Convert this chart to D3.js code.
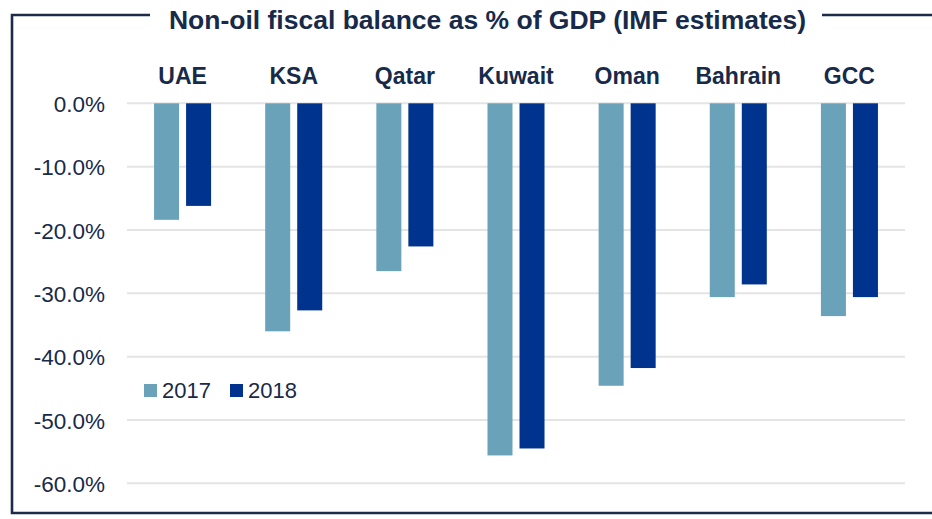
<!DOCTYPE html>
<html>
<head>
<meta charset="utf-8">
<script src="https://cdn.jsdelivr.net/npm/d3@7"></script>
<style>
  html, body { margin: 0; padding: 0; background: #fff; }
  svg { display: block; font-family: "Liberation Sans", Arial, sans-serif; }
</style>
</head>
<body>
<svg id="chart" width="932" height="519"></svg>
<script>
// Non-oil fiscal balance, % of GDP
const categories = ["UAE", "KSA", "Qatar", "Kuwait", "Oman", "Bahrain", "GCC"];
const seriesNames = ["2017", "2018"];
const values2017 = [-18.4, -36.0, -26.5, -55.6, -44.6, -30.6, -33.6];
const values2018 = [-16.2, -32.7, -22.6, -54.5, -41.8, -28.6, -30.6];
const yTicks = [0, -10, -20, -30, -40, -50, -60];
const titleText = "Non-oil fiscal balance as % of GDP (IMF estimates)";

const colors = { "2017": "#6aa3b9", "2018": "#00338d" };
const ink = "#172a4a";

const svg = d3.select("#chart");
const plot = { left: 127, right: 905, top: 103.3, bottom: 483.3 };

const rows = categories.map((c, i) => ({
  category: c,
  values: [
    { series: "2017", value: values2017[i] },
    { series: "2018", value: values2018[i] }
  ]
}));

const x0 = d3.scaleBand().domain(categories).range([plot.left, plot.right]).padding(0);
const x1 = d3.scaleBand().domain(seriesNames).range([0, x0.bandwidth()])
  .paddingInner(0.21875).paddingOuter(0.845);
const y = d3.scaleLinear().domain([-60, 0]).range([plot.bottom, plot.top]);

// Frame with the title breaking the top edge
svg.append("path")
  .attr("d", "M150,15 H12 V513 H940")
  .attr("fill", "none")
  .attr("stroke", "#1b2b48")
  .attr("stroke-width", 2.6);
svg.append("line")
  .attr("x1", 822).attr("x2", 940).attr("y1", 15).attr("y2", 15)
  .attr("stroke", "#1b2b48").attr("stroke-width", 2.6);

svg.append("text")
  .attr("x", 487.5).attr("y", 28.5)
  .attr("text-anchor", "middle")
  .attr("font-size", 26.5).attr("font-weight", "bold")
  .attr("fill", ink)
  .text(titleText);

// Horizontal gridlines
svg.append("g")
  .selectAll("line")
  .data(yTicks)
  .join("line")
  .attr("x1", plot.left).attr("x2", plot.right)
  .attr("y1", d => y(d)).attr("y2", d => y(d))
  .attr("stroke", "#e4e4e4").attr("stroke-width", 2);

// Value axis, hyphen-minus labels
const pct = d3.format(".1f");
const yAxis = svg.append("g")
  .attr("transform", "translate(105,0)")
  .call(d3.axisLeft(y).tickValues(yTicks).tickSize(0).tickPadding(0)
    .tickFormat(d => pct(d).replace("\u2212", "-") + "%"));
yAxis.select(".domain").remove();
yAxis.selectAll("text")
  .attr("font-size", 22.5)
  .attr("font-family", "Liberation Sans, Arial, sans-serif")
  .attr("fill", ink)
  .attr("dy", "0.36em");

// Category labels along the top
const xAxis = svg.append("g")
  .attr("transform", "translate(0,84)")
  .call(d3.axisTop(x0).tickSize(0).tickPadding(0));
xAxis.select(".domain").remove();
xAxis.selectAll("text")
  .attr("font-size", 23)
  .attr("font-weight", "bold")
  .attr("font-family", "Liberation Sans, Arial, sans-serif")
  .attr("fill", ink)
  .attr("dy", 0);

// Bars
const groups = svg.append("g")
  .selectAll("g")
  .data(rows)
  .join("g")
  .attr("transform", d => `translate(${x0(d.category)},0)`);

groups.selectAll("rect")
  .data(d => d.values)
  .join("rect")
  .attr("x", d => x1(d.series))
  .attr("width", x1.bandwidth())
  .attr("y", y(0))
  .attr("height", d => y(d.value) - y(0))
  .attr("fill", d => colors[d.series]);

// Legend
const legend = svg.append("g").attr("transform", "translate(144,384)");
const legendX = { "2017": 0, "2018": 86 };
seriesNames.forEach(s => {
  const g = legend.append("g").attr("transform", `translate(${legendX[s]},0)`);
  g.append("rect").attr("width", 13).attr("height", 13).attr("fill", colors[s]);
  g.append("text")
    .attr("x", 18).attr("y", 13.5)
    .attr("font-size", 22)
    .attr("fill", ink)
    .text(s);
});
</script>
</body>
</html>
